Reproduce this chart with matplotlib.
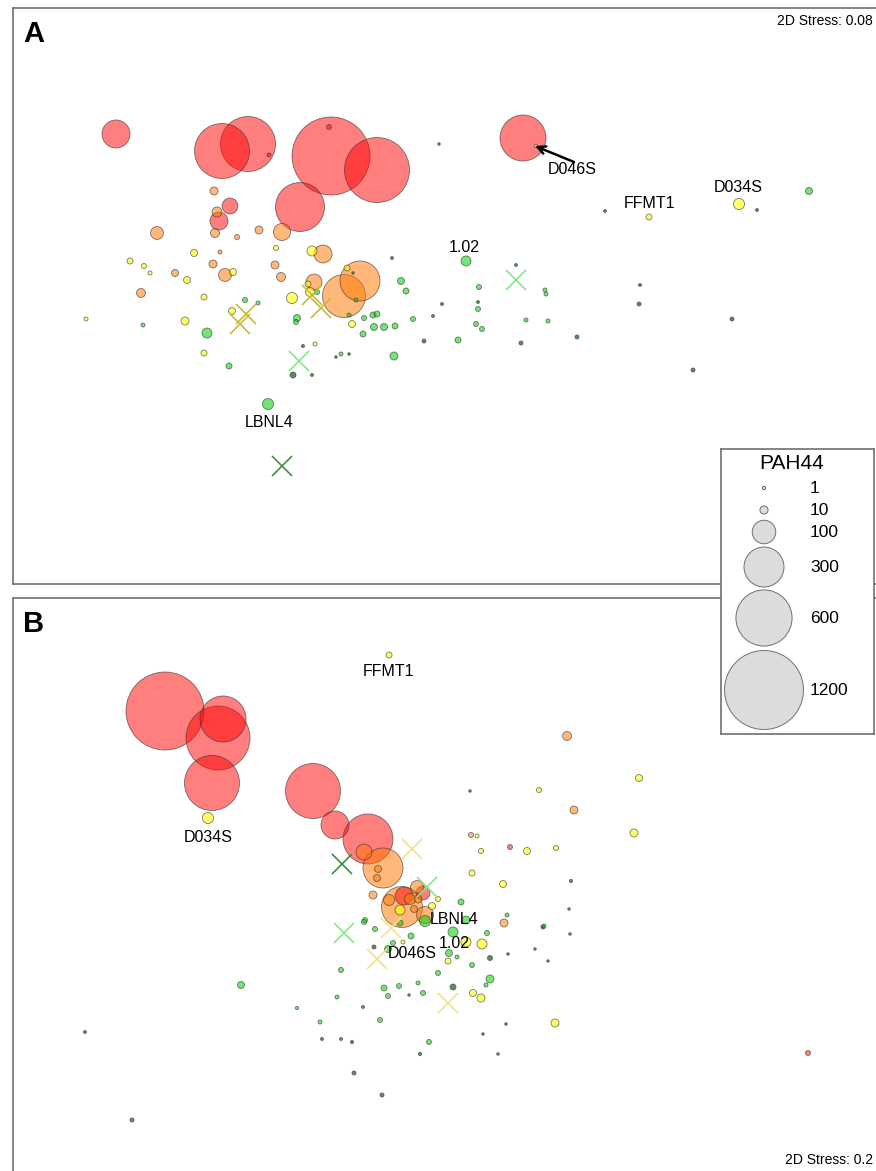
import numpy as np
import matplotlib
matplotlib.use("Agg")
import matplotlib.pyplot as plt

plt.rcParams['font.family'] = ['Liberation Sans', 'DejaVu Sans']

W, H = 876, 1171

# ---- panel A : nMDS scores (x, y), PAH44 value, group
a_x = [116, 222, 248, 331, 377, 300, 230, 219, 523, 329, 269,
       214, 217, 215, 157, 237, 259, 282, 323, 213, 175, 225, 275, 281, 141, 314, 360, 344, 220,
       130, 144, 150, 194, 187, 233, 276, 312, 292, 204, 347, 86, 185, 232, 308, 310, 352, 204, 315, 649, 739, 536,
       245, 258, 143, 207, 297, 296, 317, 356, 349, 364, 373, 377, 374, 384, 395, 363, 401, 406, 413, 394,
       458, 466, 341, 229, 268, 479, 478, 476, 482, 526, 548, 545, 546, 809,
       424, 433, 442, 392, 353, 303, 293, 312, 336, 349, 439, 605, 757, 516, 478, 521, 577, 640, 639, 732, 693]
a_y = [134, 151, 144, 156, 170, 207, 206, 221, 138, 127, 155,
       191, 212, 233, 233, 237, 230, 232, 254, 264, 273, 275, 265, 277, 293, 282, 281, 296, 252,
       261, 266, 273, 253, 280, 272, 248, 251, 298, 297, 268, 319, 321, 311, 284, 292, 324, 353, 344, 217, 204, 146,
       300, 303, 325, 333, 318, 322, 292, 300, 315, 318, 315, 314, 327, 327, 326, 334, 281, 291, 319, 356,
       340, 261, 354, 366, 404, 287, 309, 324, 329, 320, 321, 290, 294, 191,
       341, 316, 304, 258, 273, 346, 375, 375, 357, 354, 144, 211, 210, 265, 302, 343, 337, 285, 304, 319, 370]
a_val = [144, 576, 576, 1171, 809, 455, 44, 57, 400, 3, 1.8,
         9.7, 16, 12.6, 28, 3.2, 9.7, 51, 57, 9.7, 7.1, 28, 9.7, 12.6, 12.6, 44, 300, 348, 1.8,
         4.9, 3.2, 1.8, 7.1, 7.1, 7.1, 3.2, 16, 20, 4.9, 4.9, 1.8, 9.7, 7.1, 4.9, 12.6, 7.1, 4.9, 1.8, 4.9, 20, 1.0,
         3.2, 1.8, 1.8, 16, 7.1, 3.2, 3.2, 1.8, 1.8, 3.2, 4.9, 4.9, 7.1, 7.1, 4.9, 4.9, 7.1, 4.9, 3.2, 9.7,
         4.9, 16, 1.8, 4.9, 20, 3.2, 3.2, 3.2, 3.2, 1.8, 1.8, 1.8, 1.8, 7.1,
         1.8, 0.8, 0.8, 0.8, 0.5, 0.8, 4.9, 0.8, 0.5, 0.5, 0.5, 0.8, 0.8, 0.8, 0.8, 1.8, 1.8, 0.8, 1.8, 1.8, 1.8]
a_grp = (['r'] * 11 + ['o'] * 18 + ['y'] * 22 + ['g'] * 34 + ['d'] * 21)

a_cx = [246, 240, 312, 321, 299, 516, 282]
a_cy = [314, 324, 295, 308, 361, 280, 466]
a_cgrp = ['xo', 'xo', 'xo', 'xo', 'xl', 'xl', 'xd']

a_lab = ['1.02', 'LBNL4', 'FFMT1', 'D034S', 'D046S']
a_lx = [464, 269, 649, 738, 572]
a_ly = [247, 422, 203, 188, 170]

# ---- panel B
b_x = [165, 223, 218, 212, 313, 335, 368, 404, 423, 510, 808,
       364, 383, 378, 377, 402, 417, 389, 410, 418, 414, 425, 373, 504, 471, 567, 574,
       389, 208, 400, 438, 432, 466, 482, 448, 403, 473, 481, 477, 481, 527, 556, 634, 472, 503, 539, 639, 555,
       425, 461, 466, 453, 449, 457, 472, 487, 507, 544, 365, 364, 375, 411, 388, 393, 400, 341, 438, 490,
       486, 384, 399, 418, 388, 423, 337, 241, 429, 380, 320, 297,
       374, 490, 508, 543, 569, 570, 535, 548, 571, 470, 453, 409, 363, 85, 132, 506, 483, 498, 420, 354,
       382, 322, 341, 352]
b_y = [711, 719, 738, 783, 791, 825, 839, 896, 893, 847, 1053,
       852, 868, 869, 878, 907, 887, 900, 899, 899, 909, 915, 895, 923, 835, 736, 810,
       655, 818, 910, 899, 906, 942, 944, 961, 942, 993, 998, 836, 851, 851, 848, 833, 873, 884, 790, 778, 1023,
       921, 902, 920, 932, 953, 957, 965, 933, 915, 926, 920, 922, 929, 936, 949, 943, 923, 970, 973, 979,
       985, 988, 986, 983, 996, 993, 997, 985, 1042, 1020, 1022, 1008,
       947, 958, 954, 927, 909, 934, 949, 961, 881, 791, 987, 995, 1007, 1032, 1120, 1024, 1034, 1054, 1054, 1073,
       1095, 1039, 1039, 1042]
b_val = [1171, 400, 784, 576, 576, 144, 474, 57, 33, 3.2, 3.2,
         44, 300, 7.1, 7.1, 316, 28, 20, 20, 9.7, 7.1, 51, 9.7, 9.7, 3.2, 12.6, 9.7,
         4.9, 20, 16, 3.2, 7.1, 16, 16, 4.9, 1.8, 7.1, 9.7, 1.8, 3.2, 7.1, 3.2, 9.7, 4.9, 7.1, 3.2, 7.1, 9.7,
         20, 4.9, 9.7, 16, 7.1, 1.8, 3.2, 3.2, 1.8, 1.8, 3.2, 3.2, 3.2, 4.9, 7.1, 3.2, 4.9, 3.2, 3.2, 9.7,
         1.8, 4.9, 3.2, 1.8, 3.2, 3.2, 1.8, 7.1, 3.2, 3.2, 1.8, 1.0,
         1.8, 3.2, 0.5, 1.8, 0.5, 0.5, 0.5, 0.5, 1.0, 0.5, 4.9, 0.5, 0.8, 0.8, 1.8, 0.5, 0.5, 0.5, 1.0, 1.8,
         1.8, 0.8, 0.8, 1.0]
b_grp = (['r'] * 11 + ['o'] * 16 + ['y'] * 21 + ['g'] * 32 + ['d'] * 24)

b_cx = [342, 412, 427, 344, 391, 377, 448]
b_cy = [864, 849, 887, 933, 928, 959, 1003]
b_cgrp = ['xd', 'xp', 'xl', 'xl', 'xp', 'xp', 'xp']

b_lab = ['FFMT1', 'D034S', 'LBNL4', '1.02', 'D046S']
b_lx = [388, 208, 454, 454, 412]
b_ly = [672, 837, 920, 943, 953]

leg_vals = [1, 10, 100, 300, 600, 1200]
leg_y = [488, 510, 532, 567, 618, 690]

fill = {'r': (1, 0, 0, 0.5), 'o': (1, 0.47, 0, 0.52), 'y': (1, 1, 0, 0.6),
        'g': (0, 0.82, 0, 0.55), 'd': (0.2, 0.45, 0.2, 0.8)}
xcol = {'xo': '#c8bb3a', 'xp': '#eee28a', 'xl': '#86e886', 'xd': '#3f8f3f'}


def size(v):
    # bubble diameter ~ sqrt(PAH44) (+1 px for the outline), as points^2
    d = (2.25 * np.sqrt(np.asarray(v, dtype=float)) + 1.0) * 0.72
    return d ** 2


def box(l, t, r, b):
    return fig.add_axes([l / W, 1 - b / H, (r - l) / W, (b - t) / H])


def panel(ax, l, t, r, b, xs, ys, vals, grp, cx, cy, cgrp, labs, lx, ly, letter, stress, sy):
    ax.set_xlim(l, r)
    ax.set_ylim(b, t)
    ax.set_xticks([])
    ax.set_yticks([])
    for s in ax.spines.values():
        s.set_color('#707070')
        s.set_linewidth(1.2)
    order = np.argsort(vals)[::-1]
    ax.scatter(np.array(xs)[order], np.array(ys)[order], s=size(np.array(vals)[order]),
               c=[fill[grp[i]] for i in order], edgecolors=(0.2, 0.2, 0.2, 0.65),
               linewidths=0.6, zorder=2)
    for x, y, g in zip(cx, cy, cgrp):
        ax.plot(x, y, marker='x', ms=14, mew=1.2, color=xcol[g], zorder=3)
    for t_, x, y in zip(labs, lx, ly):
        ax.text(x, y, t_, ha='center', va='center', fontsize=11.5, zorder=4)
    ax.text(l + 10, t + 26, letter, fontsize=21, fontweight='bold', va='center')
    ax.text(873, sy, stress, ha='right', va='center', fontsize=10)


fig = plt.figure(figsize=(W / 100, H / 100), dpi=100)

axA = box(13, 8, 890, 584)
panel(axA, 13, 8, 890, 584, a_x, a_y, a_val, a_grp, a_cx, a_cy, a_cgrp,
      a_lab, a_lx, a_ly, 'A', '2D Stress: 0.08', 21)
axA.annotate('', xy=(535, 146), xytext=(574, 162),
             arrowprops=dict(arrowstyle='->', color='black', lw=1.8,
                             shrinkA=0, shrinkB=0, mutation_scale=14), zorder=4)

axB = box(13, 598, 890, 1180)
panel(axB, 13, 598, 890, 1180, b_x, b_y, b_val, b_grp, b_cx, b_cy, b_cgrp,
      b_lab, b_lx, b_ly, 'B', '2D Stress: 0.2', 1160)

# size legend
axL = box(721, 449, 874, 734)
axL.set_xlim(721, 874)
axL.set_ylim(734, 449)
axL.set_xticks([])
axL.set_yticks([])
axL.set_facecolor('white')
for s in axL.spines.values():
    s.set_color('#707070')
    s.set_linewidth(1.2)
axL.scatter([764] * len(leg_vals), leg_y, s=size(leg_vals), c='#dcdcdc',
            edgecolors='#707070', linewidths=0.7)
for v, y in zip(leg_vals, leg_y):
    axL.text(810, y, str(v), va='center', fontsize=12.5)
axL.text(792, 463, 'PAH44', ha='center', va='center', fontsize=15)

fig.savefig('out.png', dpi=100)
